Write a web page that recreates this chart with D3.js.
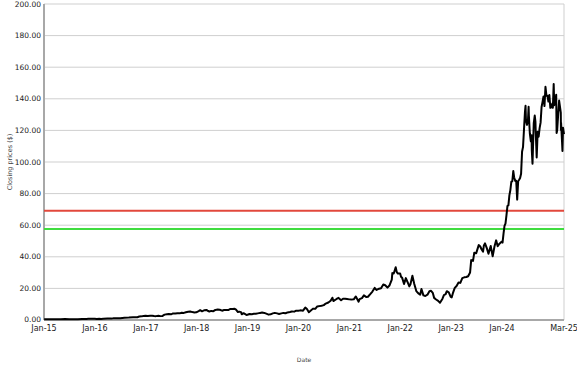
<!DOCTYPE html>
<html>
<head>
<meta charset="utf-8">
<script src="https://cdn.jsdelivr.net/npm/d3@7"></script>
<style>
  body { margin: 0; background: #fff; }
  svg { display: block; }
  .tick-label { font-family: "DejaVu Sans", sans-serif; fill: #222; }
</style>
</head>
<body>
<div id="chart"></div>
<script>

// closing prices
var dates = [
"2015-01-02","2015-02-01","2015-03-01","2015-04-01","2015-05-01","2015-06-01","2015-07-01","2015-08-01","2015-09-01","2015-10-01","2015-11-01","2015-11-15","2015-12-01","2015-12-31",
"2016-01-15","2016-02-01","2016-02-15","2016-03-01","2016-04-01","2016-05-01","2016-05-15","2016-06-01","2016-07-01","2016-08-01","2016-09-01","2016-10-01","2016-11-01","2016-11-15","2016-12-01","2016-12-15","2016-12-30",
"2017-01-15","2017-02-01","2017-02-15","2017-03-01","2017-03-15","2017-04-01","2017-04-15","2017-05-01","2017-05-15","2017-06-01","2017-06-15","2017-07-01","2017-07-15","2017-08-01","2017-08-15","2017-09-01","2017-09-15","2017-10-01","2017-10-15","2017-11-01","2017-11-15","2017-12-01","2017-12-15","2017-12-29",
"2018-01-15","2018-01-26","2018-02-08","2018-02-26","2018-03-12","2018-03-23","2018-04-02","2018-04-15","2018-05-01","2018-05-15","2018-06-01","2018-06-15","2018-07-02","2018-07-16","2018-08-01","2018-08-15","2018-08-31","2018-09-14","2018-10-01","2018-10-10","2018-10-24","2018-11-01","2018-11-15","2018-11-20","2018-12-03","2018-12-24","2018-12-31",
"2019-01-15","2019-02-01","2019-02-15","2019-03-01","2019-03-15","2019-04-01","2019-04-15","2019-05-01","2019-05-15","2019-06-01","2019-06-15","2019-07-01","2019-07-15","2019-08-01","2019-08-15","2019-09-01","2019-09-15","2019-10-01","2019-10-15","2019-11-01","2019-11-15","2019-12-02","2019-12-16","2019-12-31",
"2020-01-15","2020-02-03","2020-02-19","2020-03-02","2020-03-16","2020-04-01","2020-04-15","2020-05-01","2020-05-15","2020-06-01","2020-06-15","2020-07-01","2020-07-15","2020-08-03","2020-08-19","2020-09-01","2020-09-08","2020-09-15","2020-10-01","2020-10-15","2020-11-02","2020-11-16","2020-12-01","2020-12-15","2020-12-31",
"2021-01-15","2021-02-01","2021-02-16","2021-03-08","2021-03-15","2021-04-01","2021-04-15","2021-05-03","2021-05-14","2021-06-01","2021-06-15","2021-07-01","2021-07-15","2021-08-02","2021-08-16","2021-09-01","2021-09-15","2021-10-01","2021-10-15","2021-11-01","2021-11-05","2021-11-15","2021-11-29","2021-12-06","2021-12-15","2021-12-31",
"2022-01-07","2022-01-14","2022-01-28","2022-02-10","2022-02-24","2022-03-07","2022-03-15","2022-03-29","2022-04-11","2022-04-26","2022-05-09","2022-05-24","2022-06-02","2022-06-16","2022-06-30","2022-07-15","2022-07-29","2022-08-10","2022-08-22","2022-09-01","2022-09-15","2022-09-30","2022-10-13","2022-10-31","2022-11-10","2022-11-22","2022-12-01","2022-12-15","2022-12-29",
"2023-01-05","2023-01-13","2023-01-27","2023-02-09","2023-02-23","2023-03-08","2023-03-22","2023-04-05","2023-04-20","2023-05-03","2023-05-17","2023-05-25","2023-06-07","2023-06-16","2023-06-30","2023-07-18","2023-07-28","2023-08-08","2023-08-18","2023-08-24","2023-09-01","2023-09-14","2023-09-26","2023-10-12","2023-10-26","2023-11-08","2023-11-20","2023-12-01","2023-12-14","2023-12-29",
"2024-01-05","2024-01-12","2024-01-19","2024-01-26","2024-02-02","2024-02-09","2024-02-16","2024-02-23","2024-03-01","2024-03-08","2024-03-15","2024-03-22","2024-03-28","2024-04-05","2024-04-12","2024-04-19","2024-04-26","2024-05-03","2024-05-10","2024-05-17","2024-05-24","2024-05-31","2024-06-07","2024-06-14","2024-06-18","2024-06-21","2024-06-28","2024-07-05","2024-07-10","2024-07-12","2024-07-19","2024-07-26","2024-07-31","2024-08-02","2024-08-07","2024-08-09","2024-08-16","2024-08-23","2024-08-28","2024-08-30","2024-09-06","2024-09-13","2024-09-20","2024-09-27","2024-10-04","2024-10-11","2024-10-18","2024-10-25","2024-11-01","2024-11-08","2024-11-15","2024-11-22","2024-11-29","2024-12-06","2024-12-13","2024-12-20","2024-12-27","2024-12-31",
"2025-01-06","2025-01-10","2025-01-17","2025-01-24","2025-01-27","2025-01-31","2025-02-07","2025-02-14","2025-02-21","2025-02-26","2025-02-27","2025-02-28","2025-03-07","2025-03-10","2025-03-14","2025-03-21"
];

var closes = [
0.50,0.51,0.55,0.52,0.54,0.56,0.50,0.52,0.55,0.63,0.70,0.75,0.82,0.82,
0.67,0.72,0.68,0.80,0.89,0.88,1.17,1.16,1.18,1.45,1.55,1.72,1.75,2.20,2.30,2.55,2.67,
2.60,2.70,2.70,2.55,2.45,2.72,2.45,2.60,3.40,3.60,3.75,3.60,4.15,4.05,4.20,4.20,4.60,4.50,4.90,5.20,5.40,5.00,4.80,4.84,
5.60,6.20,5.50,6.20,6.40,5.70,5.40,5.75,5.60,6.40,6.60,6.50,5.90,6.30,6.40,6.30,7.00,6.90,7.10,6.60,5.00,5.30,5.00,3.60,4.30,3.20,3.34,
3.80,3.70,3.90,3.90,4.20,4.50,4.70,4.50,4.00,3.40,3.60,4.20,4.50,4.20,3.80,4.20,4.50,4.30,4.80,5.10,5.40,5.30,5.90,5.88,
6.10,5.90,7.85,6.90,4.90,6.10,7.20,7.10,8.60,8.80,9.00,9.40,10.4,11.1,12.2,14.1,12.0,12.4,13.3,14.0,12.5,13.5,13.5,13.3,13.05,
12.9,13.1,14.9,11.6,13.2,13.9,15.6,14.5,14.7,16.5,18.0,20.3,19.0,19.8,20.1,22.5,22.0,20.5,21.8,25.6,29.7,29.4,33.4,30.5,29.4,29.4,
27.2,26.8,22.8,26.5,23.7,21.3,22.6,28.0,23.0,18.3,17.0,16.0,19.6,15.6,15.2,16.0,18.2,18.5,17.2,14.0,13.0,12.1,10.9,13.5,15.7,16.3,18.2,17.5,14.6,
14.3,16.8,20.3,21.5,23.7,23.5,26.5,27.0,27.2,27.7,30.1,37.9,37.4,42.6,42.3,47.4,46.7,44.6,43.3,47.2,48.5,45.5,41.9,46.9,40.3,46.5,50.4,46.7,48.3,49.5,
49.0,54.7,59.5,61.0,66.2,72.1,72.6,78.9,82.2,87.5,87.8,94.3,90.4,88.0,88.1,76.2,87.8,88.8,89.9,92.5,106.5,109.6,120.9,131.9,135.6,126.6,123.5,125.8,134.9,129.2,117.9,113.1,117.0,107.3,98.9,104.8,124.6,129.4,125.6,119.4,102.8,119.1,116.0,121.4,124.9,134.8,138.0,141.5,135.4,147.6,142.0,142.0,138.3,142.4,134.3,134.7,137.0,134.3,
149.4,135.9,137.7,142.6,118.4,120.1,129.8,138.9,134.4,131.3,120.2,124.9,112.7,107.0,121.7,117.7
];

var yTicks = [0, 20, 40, 60, 80, 100, 120, 140, 160, 180, 200];
var xTickDates = ["2015-01-01","2016-01-01","2017-01-01","2018-01-01","2019-01-01","2020-01-01","2021-01-01","2022-01-01","2023-01-01","2024-01-01","2025-03-21"];
var xTickLabels = ["Jan-15","Jan-16","Jan-17","Jan-18","Jan-19","Jan-20","Jan-21","Jan-22","Jan-23","Jan-24","Mar-25"];

var redLevel = 69.2;
var greenLevel = 57.6;

var margin = {top: 4, right: 13, bottom: 47, left: 44};
var width = 577 - margin.left - margin.right;
var height = 367 - margin.top - margin.bottom;

var parse = d3.timeParse("%Y-%m-%d");
var data = dates.map(function(d, i) { return {date: parse(d), close: closes[i]}; });

var x = d3.scaleTime()
  .domain([parse("2015-01-01"), parse("2025-03-21")])
  .range([0, width]);

var y = d3.scaleLinear()
  .domain([0, 200])
  .range([height, 0]);

var svg = d3.select("#chart").append("svg")
  .attr("width", 577)
  .attr("height", 367);

var g = svg.append("g")
  .attr("transform", "translate(" + margin.left + "," + margin.top + ")");

// horizontal grid
g.selectAll(".grid")
  .data(yTicks)
  .enter().append("line")
  .attr("x1", 0)
  .attr("x2", width)
  .attr("y1", function(d) { return y(d); })
  .attr("y2", function(d) { return y(d); })
  .style("stroke", "#cfcfcf")
  .style("stroke-width", 1);

// right border
g.append("line")
  .attr("x1", width).attr("x2", width)
  .attr("y1", 0).attr("y2", height)
  .style("stroke", "#cfcfcf");

// axis lines
g.append("line")
  .attr("x1", 0).attr("x2", 0)
  .attr("y1", 0).attr("y2", height)
  .style("stroke", "#a8a8a8")
  .style("stroke-width", 2);
g.append("line")
  .attr("x1", 0).attr("x2", width)
  .attr("y1", height).attr("y2", height)
  .style("stroke", "#a8a8a8")
  .style("stroke-width", 2);

// reference lines
g.append("line")
  .attr("x1", 0).attr("x2", width)
  .attr("y1", y(redLevel)).attr("y2", y(redLevel))
  .style("stroke", "#e2483c")
  .style("stroke-width", 2);
g.append("line")
  .attr("x1", 0).attr("x2", width)
  .attr("y1", y(greenLevel)).attr("y2", y(greenLevel))
  .style("stroke", "#3fdc3f")
  .style("stroke-width", 2);

// price line
var line = d3.line()
  .x(function(d) { return x(d.date); })
  .y(function(d) { return y(d.close); });

g.append("path")
  .datum(data)
  .attr("d", line)
  .style("fill", "none")
  .style("stroke", "#000")
  .style("stroke-width", 2)
  .style("stroke-linejoin", "round");

// y tick labels
g.selectAll(".ylab")
  .data(yTicks)
  .enter().append("text")
  .attr("class", "tick-label")
  .attr("x", -3)
  .attr("y", function(d) { return y(d); })
  .attr("dy", function(d) { return d == 0 ? "0.2em" : "0.35em"; })
  .attr("text-anchor", "end")
  .style("font-size", "7.5px")
  .text(function(d) { return d3.format(".2f")(d); });

// x tick labels
g.selectAll(".xlab")
  .data(xTickDates)
  .enter().append("text")
  .attr("class", "tick-label")
  .attr("x", function(d) { return x(parse(d)); })
  .attr("y", height + 10.5)
  .attr("text-anchor", "middle")
  .style("font-size", "8px")
  .text(function(d, i) { return xTickLabels[i]; });

// axis titles
svg.append("text")
  .attr("x", margin.left + width / 2)
  .attr("y", 362)
  .attr("text-anchor", "middle")
  .style("font-family", "DejaVu Sans, sans-serif")
  .style("font-size", "6px")
  .style("fill", "#444")
  .text("Date");

svg.append("text")
  .attr("transform", "translate(12," + (margin.top + height / 2) + ") rotate(-90)")
  .attr("text-anchor", "middle")
  .style("font-family", "DejaVu Sans, sans-serif")
  .style("font-size", "6.5px")
  .style("fill", "#444")
  .text("Closing prices ($)");

</script>
</body>
</html>
